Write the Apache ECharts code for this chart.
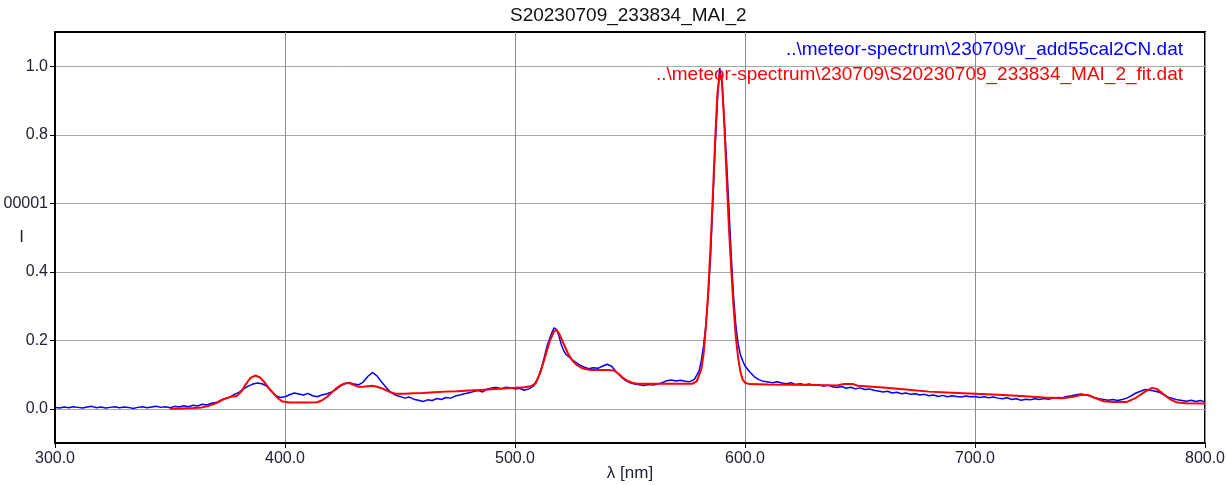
<!DOCTYPE html>
<html>
<head>
<meta charset="utf-8">
<script src="https://cdn.jsdelivr.net/npm/echarts@6/dist/echarts.min.js"></script>
<style>
  html, body { margin: 0; padding: 0; background: #fff; }
  #chart { width: 1228px; height: 485px; }
</style>
</head>
<body>
<div id="chart"></div>
<script>
const chartTitle = "S20230709_233834_MAI_2";
const blueName = "..\\meteor-spectrum\\230709\\r_add55cal2CN.dat";
const redName = "..\\meteor-spectrum\\230709\\S20230709_233834_MAI_2_fit.dat";

// y ticks (0.6 is printed clipped in the original)
const yTickValues = [0, 0.2, 0.4, 0.6, 0.8, 1.0];
const yTickLabels = ["0.0", "0.2", "0.4", "00001", "0.8", "1.0"];

// measured spectrum [lambda nm, I]
const blueData = [
  [300,0.004],[302,0.002],[304,0.005],[306,0.003],[308,0.006],[310,0.004],[312,0.002],[314,0.005],
  [316,0.007],[318,0.003],[320,0.005],[322,0.002],[324,0.004],[326,0.006],[328,0.003],[330,0.005],
  [332,0.004],[334,0.001],[336,0.004],[338,0.006],[340,0.003],[342,0.005],[344,0.007],[346,0.004],
  [348,0.006],[350,0.003],[352,0.007],[354,0.005],[356,0.009],[358,0.006],[360,0.010],[362,0.008],
  [364,0.013],[366,0.011],[368,0.016],[370,0.018],[372,0.024],[374,0.030],[376,0.034],[378,0.042],
  [380,0.048],[382,0.058],[384,0.066],[386,0.072],[388,0.075],[390,0.073],[392,0.066],[394,0.052],
  [396,0.038],[398,0.033],[400,0.035],[402,0.041],[404,0.046],[406,0.043],[408,0.040],[410,0.045],
  [412,0.038],[414,0.035],[416,0.040],[418,0.043],[420,0.048],[422,0.055],[424,0.066],[426,0.073],
  [428,0.077],[430,0.072],[432,0.070],[434,0.078],[436,0.094],[438,0.106],[440,0.096],[442,0.078],
  [444,0.062],[446,0.048],[448,0.040],[450,0.036],[452,0.031],[454,0.034],[456,0.028],[458,0.025],
  [460,0.021],[462,0.026],[464,0.024],[466,0.030],[468,0.027],[470,0.033],[472,0.031],[474,0.037],
  [476,0.040],[478,0.044],[480,0.047],[482,0.050],[484,0.053],[486,0.049],[488,0.058],[490,0.061],
  [492,0.062],[494,0.058],[496,0.063],[498,0.061],[500,0.058],[502,0.060],[504,0.054],[506,0.058],
  [508,0.066],[510,0.090],[512,0.130],[514,0.185],[516,0.222],[517,0.236],[518,0.232],[519,0.215],
  [520,0.190],[521,0.172],[522,0.160],[524,0.148],[526,0.138],[528,0.128],[530,0.122],[532,0.117],
  [534,0.120],[536,0.118],[538,0.124],[540,0.130],[542,0.124],[544,0.108],[546,0.094],[548,0.083],
  [550,0.076],[552,0.072],[554,0.070],[556,0.068],[558,0.071],[560,0.069],[562,0.072],[564,0.076],
  [566,0.082],[568,0.084],[570,0.081],[572,0.083],[574,0.080],[576,0.079],[578,0.086],[580,0.110],
  [581,0.140],[582,0.185],[583,0.245],[584,0.330],[585,0.440],[586,0.600],[587,0.760],[588,0.900],
  [589,0.995],[589.5,1.0],[590,0.955],[591,0.840],[592,0.720],[593,0.590],[594,0.450],[595,0.330],
  [596,0.245],[597,0.190],[598,0.158],[599,0.140],[600,0.125],[602,0.108],[604,0.094],[606,0.085],
  [608,0.080],[610,0.078],[612,0.076],[614,0.079],[616,0.075],[618,0.073],[620,0.076],[622,0.071],
  [624,0.073],[626,0.070],[628,0.072],[630,0.068],[632,0.070],[634,0.066],[636,0.069],[638,0.064],
  [640,0.062],[642,0.065],[644,0.060],[646,0.063],[648,0.058],[650,0.061],[652,0.056],[654,0.058],
  [656,0.054],[658,0.052],[660,0.049],[662,0.051],[664,0.046],[666,0.048],[668,0.044],[670,0.046],
  [672,0.042],[674,0.044],[676,0.040],[678,0.042],[680,0.038],[682,0.040],[684,0.036],[686,0.039],
  [688,0.035],[690,0.038],[692,0.036],[694,0.034],[696,0.037],[698,0.035],[700,0.036],[702,0.033],
  [704,0.035],[706,0.032],[708,0.034],[710,0.031],[712,0.029],[714,0.032],[716,0.027],[718,0.029],
  [720,0.025],[722,0.028],[724,0.026],[726,0.029],[728,0.027],[730,0.030],[732,0.028],[734,0.031],
  [736,0.033],[738,0.032],[740,0.036],[742,0.038],[744,0.041],[746,0.043],[748,0.041],[750,0.038],
  [752,0.032],[754,0.029],[756,0.027],[758,0.025],[760,0.027],[762,0.024],[764,0.027],[766,0.031],
  [768,0.038],[770,0.046],[772,0.051],[774,0.056],[776,0.054],[778,0.052],[780,0.048],[782,0.041],
  [784,0.034],[786,0.030],[788,0.026],[790,0.024],[792,0.022],[794,0.025],[796,0.021],[798,0.024],
  [800,0.020]
];

// fitted spectrum
const redData = [
  [350,0.000],[355,0.001],[360,0.002],[364,0.004],[367,0.009],[370,0.016],[373,0.027],[376,0.034],
  [379,0.037],[381,0.050],[383,0.072],[385,0.090],[387,0.097],[389,0.092],[391,0.078],[393,0.060],
  [395,0.045],[397,0.030],[399,0.021],[402,0.018],[406,0.018],[410,0.018],[414,0.019],[416,0.024],
  [418,0.033],[420,0.045],[422,0.058],[424,0.068],[426,0.074],[428,0.075],[430,0.069],[432,0.064],
  [434,0.064],[436,0.066],[438,0.067],[440,0.064],[442,0.060],[444,0.054],[446,0.048],[448,0.044],
  [452,0.044],[456,0.045],[460,0.046],[465,0.048],[470,0.050],[475,0.051],[480,0.053],[485,0.055],
  [490,0.057],[495,0.059],[500,0.061],[504,0.063],[507,0.066],[509,0.074],[511,0.105],[513,0.150],
  [515,0.196],[517,0.226],[518,0.230],[519,0.222],[521,0.192],[523,0.162],[525,0.140],[527,0.127],
  [529,0.119],[531,0.115],[533,0.113],[536,0.113],[540,0.113],[543,0.112],[545,0.102],[547,0.090],
  [549,0.081],[551,0.076],[553,0.073],[560,0.073],[570,0.073],[577,0.073],[579,0.080],[581,0.115],
  [582,0.160],[583,0.240],[584,0.340],[585,0.470],[586,0.620],[587,0.780],[588,0.920],[589,0.980],
  [590,0.955],[591,0.830],[592,0.680],[593,0.530],[594,0.410],[595,0.300],[596,0.210],[597,0.150],
  [598,0.108],[599,0.085],[600,0.076],[602,0.072],[610,0.071],[620,0.070],[630,0.069],[640,0.068],
  [643,0.072],[647,0.072],[649,0.067],[660,0.062],[670,0.056],[680,0.050],[690,0.047],[700,0.044],
  [710,0.041],[720,0.037],[730,0.033],[738,0.031],[742,0.034],[746,0.040],[749,0.040],[752,0.032],
  [756,0.022],[760,0.020],[766,0.020],[770,0.032],[774,0.050],[777,0.061],[779,0.058],[782,0.042],
  [785,0.027],[788,0.018],[792,0.016],[800,0.015]
];

const chart = echarts.init(document.getElementById("chart"));
const font = "Liberation Sans, Arial, sans-serif";
const labelColor = "#222233";

chart.setOption({
  animation: false,
  textStyle: { fontFamily: font },
  title: {
    text: chartTitle,
    left: 510,
    top: 6,
    padding: 0,
    textStyle: { fontSize: 19, fontWeight: "normal", color: "#111", fontFamily: font },
  },
  legend: {
    orient: "vertical",
    right: 35,
    top: 35,
    align: "right",
    icon: "none",
    itemWidth: 0,
    itemGap: 6,
    selectedMode: false,
    textStyle: { fontSize: 19, fontFamily: font },
    data: [
      { name: blueName, textStyle: { color: "#0000ff" } },
      { name: redName, textStyle: { color: "#ff0000" } }
    ],
  },
  grid: {
    left: 55,
    right: 23,
    top: 32,
    bottom: 42,
    outerBoundsMode: "none",
    containLabel: false,
    show: true,
    borderColor: "#000",
    borderWidth: 2,
  },
  xAxis: {
    type: "value",
    min: 300,
    max: 800,
    interval: 100,
    name: "λ [nm]",
    nameLocation: "middle",
    nameGap: 22,
    nameMoveOverlap: false,
    nameTextStyle: { fontSize: 17, color: labelColor, fontFamily: font },
    axisLine: { show: true, onZero: false, lineStyle: { color: "#000", width: 2 } },
    axisTick: { show: true, length: 5, lineStyle: { color: "#000" } },
    axisLabel: {
      fontSize: 16,
      color: labelColor,
      margin: 8,
      formatter: (v) => v.toFixed(1),
    },
    splitLine: { show: true, lineStyle: { color: "#8c8c8c", width: 1 } },
  },
  yAxis: {
    type: "value",
    min: -0.1,
    max: 1.1,
    name: "I",
    nameLocation: "middle",
    nameGap: 31,
    nameRotate: 0,
    nameMoveOverlap: false,
    nameTextStyle: { fontSize: 17, color: labelColor, fontFamily: font },
    axisLine: { show: true, onZero: false, lineStyle: { color: "#000", width: 2 } },
    axisTick: { show: true, length: 5, customValues: yTickValues, lineStyle: { color: "#000" } },
    axisLabel: {
      fontSize: 16,
      color: labelColor,
      margin: 7,
      customValues: yTickValues,
      formatter: (v) => {
        let i = yTickValues.findIndex((t) => Math.abs(t - v) < 1e-6);
        return i >= 0 ? yTickLabels[i] : "";
      },
    },
    splitLine: { show: true, lineStyle: { color: "#a8a8a8", width: 1 } },
  },
  series: [
    {
      name: blueName,
      type: "line",
      data: blueData,
      showSymbol: false,
      color: "#0000ff",
      lineStyle: { color: "#0000ff", width: 1.5 },
      z: 2,
    },
    {
      name: redName,
      type: "line",
      data: redData,
      showSymbol: false,
      color: "#ff0000",
      lineStyle: { color: "#ff0000", width: 2 },
      z: 3,
    }
  ],
});

window.addEventListener("resize", () => chart.resize());
</script>
</body>
</html>
